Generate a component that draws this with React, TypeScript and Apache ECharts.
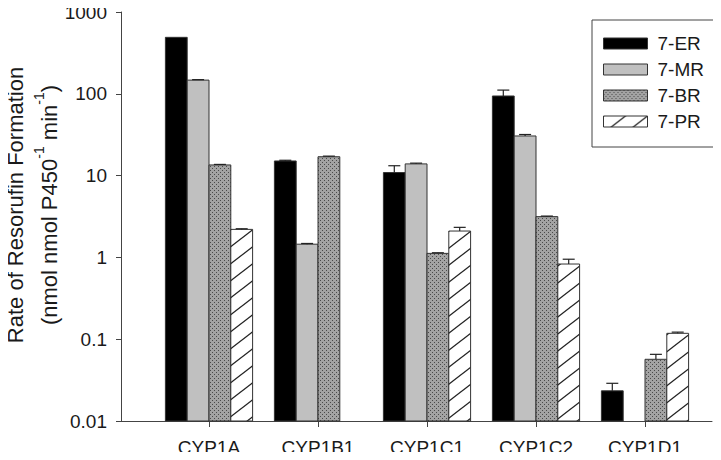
import React, { useEffect, useRef } from 'react';
import * as echarts from 'echarts';

const categories = ['CYP1A', 'CYP1B1', 'CYP1C1', 'CYP1C2', 'CYP1D1'];
const seriesNames = ['7-ER', '7-MR', '7-BR', '7-PR'];
// values (nmol nmol P450^-1 min^-1); null = not detected
const erValues = [490, 15.1, 10.9, 94, 0.0234];
const erErrors = [0, 0.3, 2.3, 17, 0.0055];
const mrValues = [147, 1.45, 13.9, 30.5, null];
const mrErrors = [2, 0.03, 0.3, 1.3, null];
const brValues = [13.5, 17.0, 1.12, 3.15, 0.0568];
const brErrors = [0.2, 0.3, 0.02, 0.05, 0.0085];
const prValues = [2.2, null, 2.1, 0.83, 0.118];
const prErrors = [0.04, null, 0.23, 0.12, 0.004];
const Y_MIN = 0.01;
const Y_MAX = 1000;

const FONT = '"Liberation Sans", Arial, Helvetica, sans-serif';

function makePattern(w: number, h: number, draw: (ctx: CanvasRenderingContext2D) => void) {
  const c = document.createElement('canvas');
  c.width = w;
  c.height = h;
  const ctx = c.getContext('2d') as CanvasRenderingContext2D;
  draw(ctx);
  return { image: c.toDataURL(), repeat: 'repeat', imageWidth: w, imageHeight: h } as any;
}

function buildFills() {
  const br = makePattern(4, 4, (ctx) => {
    ctx.fillStyle = '#a3a3a3';
    ctx.fillRect(0, 0, 4, 4);
    ctx.fillStyle = '#4a4a4a';
    ctx.fillRect(0, 0, 1, 1);
    ctx.fillRect(2, 2, 1, 1);
  });
  const pr = makePattern(22, 17, (ctx) => {
    ctx.fillStyle = '#ffffff';
    ctx.fillRect(0, 0, 22, 17);
    ctx.strokeStyle = '#222222';
    ctx.lineWidth = 1.3;
    for (let dx = -22; dx <= 22; dx += 22) {
      for (let dy = -17; dy <= 17; dy += 17) {
        ctx.beginPath();
        ctx.moveTo(dx, 17 + dy);
        ctx.lineTo(dx + 22, dy);
        ctx.stroke();
      }
    }
  });
  return ['#000000', '#c0c0c0', br, pr];
}

function rows(values: (number | null)[], errors: (number | null)[]) {
  const out: number[][] = [];
  values.forEach((v, i) => {
    if (v != null) out.push([i, v, errors[i] ?? 0]);
  });
  return out;
}

function fmtLog(v: number) {
  const r = Math.round(Math.log10(v));
  return r >= 0 ? String(Math.pow(10, r)) : Math.pow(10, r).toFixed(-r);
}

export default function App() {
  const ref = useRef<HTMLDivElement>(null);
  useEffect(() => {
    if (!ref.current) return;
    const chart = echarts.init(ref.current, null, { renderer: 'svg' });
    const fills = buildFills();
    const allRows = [
      rows(erValues, erErrors),
      rows(mrValues, mrErrors),
      rows(brValues, brErrors),
      rows(prValues, prErrors),
    ];

    const renderItem = (params: any, api: any) => {
      const si = params.seriesIndex;
      const ci = api.value(0);
      const v = api.value(1);
      const e = api.value(2);
      const band = api.size([1, 0], [ci, 1])[0];
      const bw = band * 0.2;
      const top = api.coord([ci, v]);
      const base = api.coord([ci, Y_MIN]);
      const cx = top[0] + (si - 1.5) * bw;
      const children: any[] = [
        {
          type: 'rect',
          shape: { x: cx - bw / 2, y: top[1], width: bw, height: base[1] - top[1] },
          style: { fill: fills[si], stroke: '#333', lineWidth: 1 },
        },
      ];
      if (e > 0) {
        const et = api.coord([ci, v + e]);
        const ls = { stroke: '#222', lineWidth: 1.2 };
        children.push(
          { type: 'line', shape: { x1: cx, y1: top[1], x2: cx, y2: et[1] }, style: ls },
          { type: 'line', shape: { x1: cx - 6, y1: et[1], x2: cx + 6, y2: et[1] }, style: ls }
        );
      }
      return { type: 'group', children };
    };

    const option: any = {
      animation: false,
      backgroundColor: '#ffffff',
      textStyle: { fontFamily: FONT },
      grid: [
        { left: 121, right: 9, top: 12, bottom: 39 },
        { left: 154.5, width: 545, top: 12, bottom: 39 },
      ],
      xAxis: [
        {
          type: 'value',
          gridIndex: 0,
          min: 0.19,
          max: 5.61,
          axisLine: { show: true, lineStyle: { color: '#444', width: 1 } },
          axisTick: { show: false },
          axisLabel: { show: false },
          splitLine: { show: false },
        },
        {
          type: 'category',
          gridIndex: 1,
          data: categories,
          axisLine: { show: false },
          axisTick: { show: true, alignWithLabel: true, length: 6, lineStyle: { color: '#444' } },
          axisLabel: { fontSize: 19, color: '#1a1a1a', margin: 17, fontFamily: FONT },
        },
      ],
      yAxis: [
        {
          type: 'log',
          gridIndex: 0,
          logBase: 10,
          min: Y_MIN,
          max: Y_MAX,
          splitNumber: 5,
          axisLine: { show: true, lineStyle: { color: '#444', width: 1 } },
          axisTick: { show: true, length: 5, lineStyle: { color: '#444' } },
          minorTick: { show: false },
          axisLabel: { fontSize: 19, color: '#1a1a1a', margin: 14, fontFamily: FONT, formatter: fmtLog },
          splitLine: { show: false },
        },
        {
          type: 'log',
          gridIndex: 1,
          logBase: 10,
          min: Y_MIN,
          max: Y_MAX,
          show: false,
        },
      ],
      legend: {
        orient: 'vertical',
        left: 592,
        top: 20,
        itemWidth: 44,
        itemHeight: 11,
        itemGap: 7,
        padding: [14, 17, 16, 11],
        borderColor: '#444',
        borderWidth: 1,
        textStyle: { fontSize: 19, color: '#1a1a1a', fontFamily: FONT, padding: [0, 0, 0, 5] },
        data: seriesNames.map((n, i) => ({
          name: n,
          icon: 'rect',
          itemStyle: { color: fills[i], borderColor: '#333', borderWidth: 1 },
        })),
      },
      graphic: [
        {
          type: 'text',
          x: 32,
          y: 205,
          rotation: Math.PI / 2,
          style: {
            text: '{a|Rate of Resorufin Formation}\n{a|(nmol nmol P450}{s|-1}{a| min}{s|-1}{a|)}',
            align: 'center',
            verticalAlign: 'middle',
            fill: '#1a1a1a',
            fontFamily: FONT,
            rich: {
              a: { fontSize: 22, lineHeight: 34, fontFamily: FONT, fill: '#1a1a1a' },
              s: { fontSize: 14, lineHeight: 22, verticalAlign: 'top', fontFamily: FONT, fill: '#1a1a1a' },
            },
          },
        },
      ],
      series: seriesNames.map((n, i) => ({
        name: n,
        type: 'custom',
        xAxisIndex: 1,
        yAxisIndex: 1,
        clip: false,
        itemStyle: { color: fills[i], borderColor: '#333', borderWidth: 1 },
        encode: { x: 0, y: 1 },
        data: allRows[i],
        renderItem,
      })),
    };
    chart.setOption(option);
    return () => chart.dispose();
  }, []);
  return <div ref={ref} style={{ width: 721, height: 460, margin: -8 }} />;
}
